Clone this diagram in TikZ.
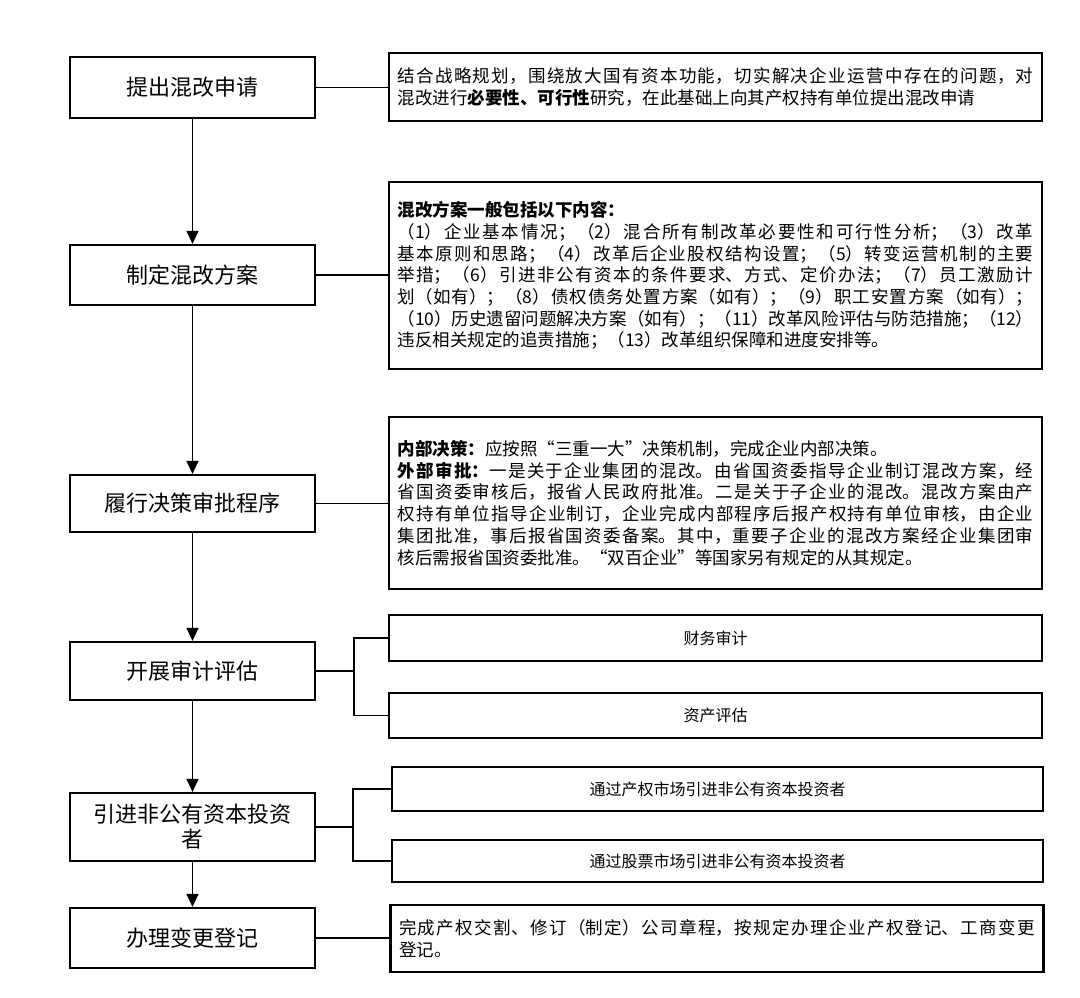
\documentclass[tikz,border=0pt]{standalone}
\usepackage{fontspec}
\setmainfont{Noto Sans CJK SC}
\usetikzlibrary{arrows.meta}
\XeTeXlinebreaklocale "zh"
\XeTeXlinebreakskip=0pt plus 4pt
\setlength{\parindent}{0pt}
\setlength{\parskip}{0pt}
\begin{document}
\begin{tikzpicture}[x=1pt,y=-1pt,
  lbox/.style={draw, line width=2.2pt, minimum width=245pt, inner sep=0pt,
    font=\fontsize{22}{25}\selectfont, align=center},
  rbox/.style={draw, line width=2.2pt, minimum width=653pt, inner sep=0pt},
  para/.style={text width=636pt, inner xsep=8.5pt, align=justify,
    font=\fontsize{17.5}{21.7}\selectfont},
  small/.style={font=\fontsize{16}{20}\selectfont},
  conn/.style={line width=1.3pt},
  arr/.style={conn, -{Triangle[width=12pt,length=13pt]}}]
\useasboundingbox (0,0) rectangle (1080,998);

% left column
\node[lbox, minimum height=61pt] (b1) at (192.5,87.5) {提出混改申请};
\node[lbox, minimum height=60pt] (b2) at (192.5,275) {制定混改方案};
\node[lbox, minimum height=57pt] (b3) at (192.5,503.5) {履行决策审批程序};
\node[lbox, minimum height=58pt] (b4) at (192.5,671) {开展审计评估};
\node[lbox, minimum height=68pt] (b5) at (192.5,827) {引进非公有资本投资\\者};
\node[lbox, minimum height=60pt] (b6) at (192.5,938) {办理变更登记};

% right column
\node[rbox, para, minimum height=68pt] (r1) at (715.5,87) {%
\noindent 结合战略规划，围绕放大国有资本功能，切实解决企业运营中存在的问题，对\linebreak
混改进行\textbf{必要性、可行性}研究，在此基础上向其产权持有单位提出混改申请};

\node[rbox, para, minimum height=187pt] (r2) at (715.5,275.5) {%
\noindent\textbf{混改方案一般包括以下内容：}\par
\noindent （1）企业基本情况；（2）混合所有制改革必要性和可行性分析；（3）改革\linebreak
基本原则和思路；（4）改革后企业股权结构设置；（5）转变运营机制的主要\linebreak
举措；（6）引进非公有资本的条件要求、方式、定价办法；（7）员工激励计\linebreak
划（如有）；（8）债权债务处置方案（如有）；（9）职工安置方案（如有）；\linebreak
（10）历史遗留问题解决方案（如有）；（11）改革风险评估与防范措施；（12）\linebreak
违反相关规定的追责措施；（13）改革组织保障和进度安排等。\par\vspace{6pt}};

\node[rbox, para, minimum height=172pt] (r3) at (715.5,503) {%
\noindent\textbf{内部决策：}应按照“三重一大”决策机制，完成企业内部决策。\par
\noindent\textbf{外部审批：}一是关于企业集团的混改。由省国资委指导企业制订混改方案，经\linebreak
省国资委审核后，报省人民政府批准。二是关于子企业的混改。混改方案由产\linebreak
权持有单位指导企业制订，企业完成内部程序后报产权持有单位审核，由企业\linebreak
集团批准，事后报省国资委备案。其中，重要子企业的混改方案经企业集团审\linebreak
核后需报省国资委批准。“双百企业”等国家另有规定的从其规定。\par\vspace{12pt}};

\node[rbox, small, minimum height=46pt] (r4a) at (715.5,638) {财务审计};
\node[rbox, small, minimum height=45pt] (r4b) at (715.5,715.5) {资产评估};
\node[rbox, small, minimum width=651pt, minimum height=44pt] (r5a) at (717.5,789) {通过产权市场引进非公有资本投资者};
\node[rbox, small, minimum width=651pt, minimum height=42pt] (r5b) at (717.5,861) {通过股票市场引进非公有资本投资者};
\node[rbox, para, minimum width=650pt, minimum height=67pt] (r6) at (717,938.5) {%
\noindent 完成产权交割、修订（制定）公司章程，按规定办理企业产权登记、工商变更\linebreak
登记。};

% vertical arrows
\draw[arr] (b1) -- (b2);
\draw[arr] (b2) -- (b3);
\draw[arr] (b3) -- (b4);
\draw[arr] (b4) -- (b5);
\draw[arr] (b5) -- (b6);

% horizontal connectors
\draw[conn] (b1.east) -- (b1.east -| r1.west);
\draw[conn] (b2.east) -- (b2.east -| r2.west);
\draw[conn] (b3.east) -- (b3.east -| r3.west);
\draw[conn] (b6.east) -- (b6.east -| r6.west);

\coordinate (j4) at (354,671);
\draw[conn] (b4.east) -- (j4);
\draw[conn] (r4a.west) -| (j4) |- (r4b.west);

\coordinate (j5) at (353,827);
\draw[conn] (b5.east) -- (j5);
\draw[conn] (r5a.west) -| (j5) |- (r5b.west);
\end{tikzpicture}
\end{document}
